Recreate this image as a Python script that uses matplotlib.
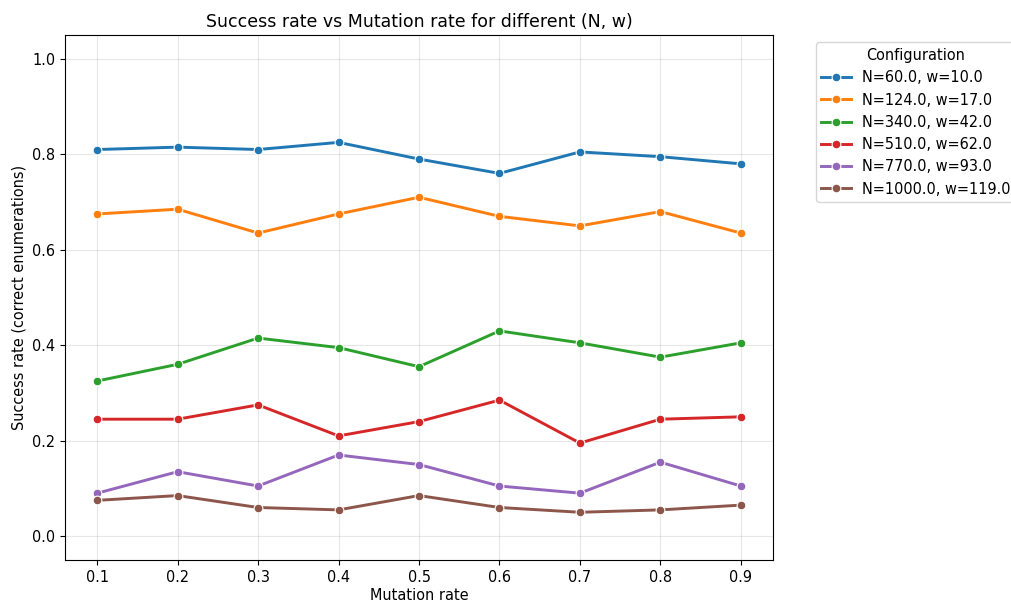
import matplotlib
matplotlib.use("Agg")
import matplotlib.pyplot as plt

mutation_rates = [0.1, 0.2, 0.3, 0.4, 0.5, 0.6, 0.7, 0.8, 0.9]
labels = ["N=60.0, w=10.0", "N=124.0, w=17.0", "N=340.0, w=42.0",
          "N=510.0, w=62.0", "N=770.0, w=93.0", "N=1000.0, w=119.0"]
s_60 = [0.81, 0.815, 0.81, 0.825, 0.79, 0.76, 0.805, 0.795, 0.78]
s_124 = [0.675, 0.685, 0.635, 0.675, 0.71, 0.67, 0.65, 0.68, 0.635]
s_340 = [0.325, 0.36, 0.415, 0.395, 0.355, 0.43, 0.405, 0.375, 0.405]
s_510 = [0.245, 0.245, 0.275, 0.21, 0.24, 0.285, 0.195, 0.245, 0.25]
s_770 = [0.09, 0.135, 0.105, 0.17, 0.15, 0.105, 0.09, 0.155, 0.105]
s_1000 = [0.075, 0.085, 0.06, 0.055, 0.085, 0.06, 0.05, 0.055, 0.065]
series = [s_60, s_124, s_340, s_510, s_770, s_1000]
colors = ["#1f77b4", "#ff7f0e", "#2ca02c", "#d62728", "#9467bd", "#8c564b"]

plt.rcParams["font.size"] = 10.45

fig = plt.figure(figsize=(10.11, 6.03), dpi=100)
ax = fig.add_axes([0.0643, 0.0713, 0.7003, 0.8707])
for lab, vals, c in zip(labels, series, colors):
    ax.plot(mutation_rates, vals, marker="o", color=c, linewidth=2.1,
            markersize=6.3, markeredgecolor="white", markeredgewidth=0.8, label=lab)

ax.set_ylim(-0.05, 1.05)
ax.set_xticks(mutation_rates)
ax.set_xticklabels([f"{m:.1f}" for m in mutation_rates])
ax.grid(True, alpha=0.3)
ax.set_xlabel("Mutation rate", labelpad=2.5)
ax.set_ylabel("Success rate (correct enumerations)")
ax.set_title("Success rate vs Mutation rate for different (N, w)")
ax.legend(title="Configuration", bbox_to_anchor=(1.05, 1), loc="upper left")
fig.savefig("out.png", dpi=100)
